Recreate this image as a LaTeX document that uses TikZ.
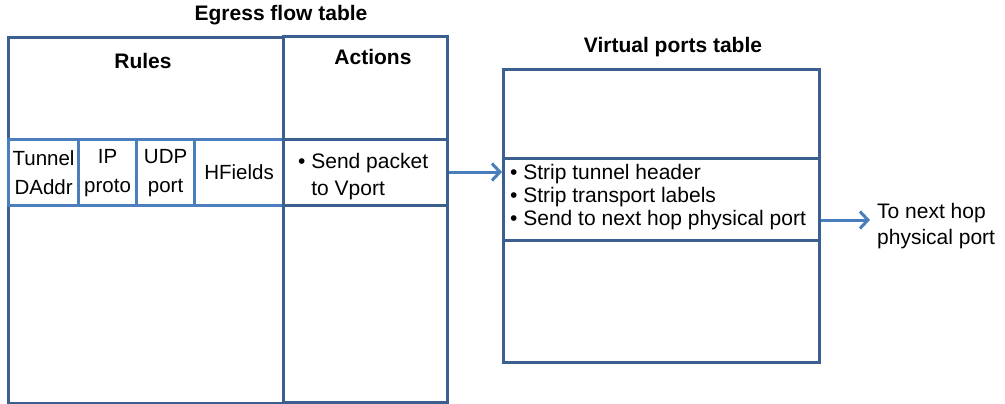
\documentclass[tikz,border=0pt]{standalone}
\usepackage{fontspec}
\setmainfont{Liberation Sans}
\usetikzlibrary{arrows.meta}
\definecolor{frame}{HTML}{3B5F8F}
\definecolor{cellline}{HTML}{4C7EBC}
\definecolor{link}{HTML}{4A7EBB}

\begin{document}
\begin{tikzpicture}[x=1pt,y=-1pt,
  tbox/.style={draw=frame, line width=3.2pt, rectangle, inner sep=0pt, anchor=north west},
  cbox/.style={draw=cellline, line width=3.2pt, rectangle, inner sep=0pt, anchor=north west,
    align=center, font=\fontsize{20.5}{29}\selectfont},
  title/.style={font=\fontsize{21}{25}\selectfont\bfseries, anchor=base, inner sep=0pt},
  body/.style={font=\fontsize{21}{23}\selectfont, align=left, inner sep=0pt},
  link/.style={draw=link, line width=3pt, -{Straight Barb[length=8pt,width=17pt,line width=3pt]}}
]
\useasboundingbox (0,0) rectangle (1005,404);

% Egress flow table: rules column and actions column
\node[tbox, minimum width=275pt, minimum height=366pt] (rules) at (7,36) {};
\node[tbox, minimum width=164pt, minimum height=366pt] (actions) at (282,35) {};

% Match fields row
\node[cbox, minimum width=70pt, minimum height=66pt] (tunnel) at (7,138) {Tunnel\\DAddr};
\node[cbox, minimum width=58pt, minimum height=66pt] (ipproto) at (77,138) {IP\\proto};
\node[cbox, minimum width=58pt, minimum height=66pt] (udp) at (135,138) {UDP\\port};
\node[cbox, minimum width=89pt, minimum height=66pt] (hfields) at (193,138) {HFields};
\node[tbox, minimum width=164pt, minimum height=66pt] (actrow) at (282,138) {};
\node[body, font=\fontsize{21}{27}\selectfont, anchor=west] (acttext) at (298,177)
  {• Send packet\\\hphantom{• }to Vport};

% Virtual ports table
\node[tbox, minimum width=316pt, minimum height=293pt] (vtable) at (502,68) {};
\node[tbox, minimum width=316pt, minimum height=82pt] (vrow) at (502,157) {};
\node[body, anchor=west] (vtext) at (510,197)
  {• Strip tunnel header\\• Strip transport labels\\• Send to next hop physical port};

% Titles
\node[title] (egress) at (281,21) {Egress flow table};
\node[title] (rulestitle) at (143,69) {Rules};
\node[title] (actionstitle) at (373,65) {Actions};
\node[title] (vtitle) at (673,53) {Virtual ports table};

% Next hop label
\node[body, font=\fontsize{21}{26}\selectfont, anchor=west] (nexthop) at (877,226)
  {To next hop\\physical port};

% Connectors
\draw[link] (actrow.east |- 0,172) -- (vtable.west |- 0,172);
\coordinate (hopend) at (870,220);
\draw[link] (vtable.east |- hopend) -- (hopend);
\end{tikzpicture}
\end{document}
